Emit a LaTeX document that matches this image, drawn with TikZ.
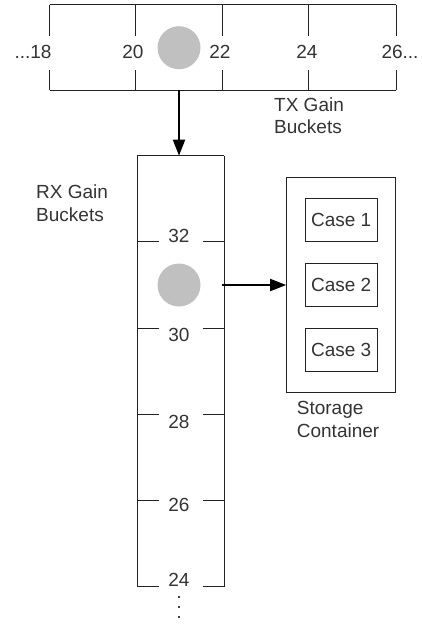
\documentclass[tikz,border=0pt]{standalone}
\usepackage{fontspec}
\setmainfont{Liberation Sans}
\usetikzlibrary{arrows.meta}
\definecolor{txt}{HTML}{333333}
\definecolor{ball}{HTML}{C0C0C0}
\definecolor{ln}{HTML}{222222}
\tikzset{
  line/.style={draw=ln, line width=1pt},
  lbl/.style={text=txt, inner sep=0pt, font=\fontsize{19}{22.5}\selectfont},
  mlbl/.style={lbl, align=left, anchor=north west},
  ball/.style={circle, fill=ball, draw=none, minimum size=43pt, inner sep=0pt},
  casebox/.style={line, minimum width=72.3pt, minimum height=43.4pt, text=txt, inner sep=0pt, font=\fontsize{19}{22.5}\selectfont},
  flow/.style={draw=black, line width=1.8pt, -{Triangle[length=16pt,width=12pt]}},
}
\begin{document}
\begin{tikzpicture}[x=1pt,y=-1pt]
\useasboundingbox (0,0) rectangle (422,625);
% TX bar
\draw[line] (49.5,4.7) -- (396,4.7);
\draw[line] (49.5,90) -- (396,90);
\foreach \x in {49.5,135.7,222.3,308.7,396}{
  \draw[line] (\x,4.7) -- (\x,36);
  \draw[line] (\x,70) -- (\x,90);
}
\node[lbl] (t18) at (33,52) {...18};
\node[lbl] (t20) at (133,52) {20};
\node[lbl] (t22) at (220,52) {22};
\node[lbl] (t24) at (307,52) {24};
\node[lbl] (t26) at (400,52) {26...};
\node[ball] (txball) at (179,47.7) {};
\node[mlbl] (txlbl) at (274,97.5) {TX Gain\\Buckets};
% arrow TX -> RX
\coordinate (txb) at (179,90);
\coordinate (rxt) at (179,155.7);
\draw[flow] (txb) -- (rxt);
% RX bar
\draw[line] (137.3,155.7) -- (224,155.7);
\draw[line] (137.3,155.7) -- (137.3,586.7);
\draw[line] (224,155.7) -- (224,586.7);
\foreach \y in {241.7,328.3,414,500.7,586.7}{
  \draw[line] (137.3,\y) -- (159.3,\y);
  \draw[line] (202.7,\y) -- (224,\y);
}
\node[lbl] (r32) at (179,236) {32};
\node[lbl] (r30) at (179,335) {30};
\node[lbl] (r28) at (179,421.7) {28};
\node[lbl] (r26) at (179,505) {26};
\node[lbl] (r24) at (179,580) {24};
\node[ball] (rxball) at (179,285) {};
\node[mlbl] (rxlbl) at (36,185) {RX Gain\\Buckets};
\foreach \y in {597,607,617}{\fill[black] (179,\y) circle (1.2pt);}
% storage
\node[line, minimum width=108.3pt, minimum height=215.4pt, inner sep=0pt] (store) at (340.85,285) {};
\node[casebox] (c1) at (341.15,220) {Case 1};
\node[casebox] (c2) at (341.15,285) {Case 2};
\node[casebox] (c3) at (341.15,350) {Case 3};
\node[mlbl] (stlbl) at (296.7,401.5) {Storage\\Container};
\coordinate (rxr) at (222,285);
\draw[flow] (rxr) -- (store.west);
\end{tikzpicture}
\end{document}
